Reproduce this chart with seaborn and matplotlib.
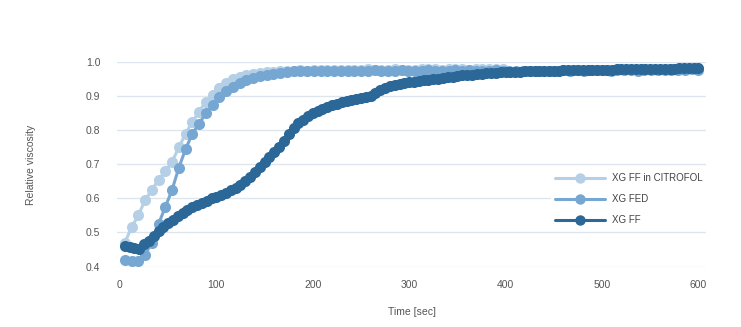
import numpy as np
import pandas as pd
import matplotlib.pyplot as plt
import seaborn as sns

# --- data ---
t_citrofol = [5, 12, 19, 26, 33, 40, 47, 54, 61, 68, 75, 82, 89, 96, 103, 110, 117, 124,
              131, 138, 145, 152, 159, 166, 173, 180, 187, 194, 201, 208, 215, 222, 229,
              236, 243, 250, 257, 264, 271, 278, 285, 292, 299, 306, 313, 320, 327, 334,
              341, 348, 355, 362, 369, 376, 383, 390, 397]
v_citrofol = [0.47, 0.515, 0.55, 0.595, 0.625, 0.655, 0.68, 0.708, 0.75, 0.79, 0.825, 0.855,
              0.885, 0.905, 0.925, 0.94, 0.952, 0.958, 0.963, 0.967, 0.97, 0.972, 0.973,
              0.974, 0.975, 0.976, 0.977, 0.976, 0.978, 0.977, 0.978, 0.979, 0.978, 0.977,
              0.978, 0.979, 0.98, 0.979, 0.978, 0.979, 0.98, 0.979, 0.978, 0.979, 0.98,
              0.981, 0.98, 0.979, 0.98, 0.981, 0.98, 0.979, 0.98, 0.981, 0.982, 0.981, 0.98]

t_fed = [5, 12, 19, 26, 33, 40, 47, 54, 61, 68, 75, 82, 89, 96, 103, 110, 117, 124, 131,
         138, 145, 152, 159, 166, 173, 180, 187, 194, 201, 208, 215, 222, 229, 236, 243,
         250, 257, 264, 271, 278, 285, 292, 299, 306, 313, 320, 327, 334, 341, 348, 355,
         362, 369, 376, 383, 390, 397, 404, 411, 418, 425, 432, 439, 446, 453, 460, 467,
         474, 481, 488, 495, 502, 509, 516, 523, 530, 537, 544, 551, 558, 565, 572, 579,
         586, 593, 600]
v_fed = [0.418, 0.415, 0.415, 0.435, 0.47, 0.525, 0.575, 0.625, 0.69, 0.745, 0.79, 0.82,
         0.85, 0.875, 0.898, 0.915, 0.928, 0.94, 0.948, 0.955, 0.96, 0.963, 0.967, 0.97,
         0.972, 0.974, 0.975, 0.974, 0.976, 0.975, 0.976, 0.975, 0.974, 0.975, 0.976,
         0.975, 0.976, 0.977, 0.976, 0.975, 0.976, 0.977, 0.976, 0.975, 0.976, 0.977,
         0.976, 0.975, 0.976, 0.977, 0.976, 0.977, 0.976, 0.975, 0.976, 0.977, 0.976,
         0.975, 0.974, 0.975, 0.976, 0.975, 0.974, 0.975, 0.976, 0.977, 0.976, 0.977,
         0.976, 0.977, 0.978, 0.977, 0.976, 0.977, 0.978, 0.977, 0.976, 0.977, 0.978,
         0.979, 0.978, 0.979, 0.978, 0.979, 0.98, 0.979]

t_ff = list(range(5, 601, 5))
v_ff = [0.46, 0.458, 0.455, 0.452, 0.465, 0.475, 0.49, 0.505, 0.515, 0.528, 0.538, 0.548,
        0.558, 0.567, 0.575, 0.582, 0.588, 0.594, 0.6, 0.605, 0.61, 0.617, 0.625, 0.632,
        0.64, 0.652, 0.664, 0.678, 0.693, 0.708, 0.722, 0.737, 0.752, 0.77, 0.79, 0.808,
        0.822, 0.832, 0.842, 0.85, 0.857, 0.863, 0.869, 0.875, 0.879, 0.883, 0.886, 0.889,
        0.892, 0.895, 0.897, 0.9, 0.91, 0.918, 0.925, 0.93, 0.935, 0.938, 0.94, 0.942,
        0.944, 0.945, 0.947, 0.948, 0.95, 0.952, 0.954, 0.956, 0.958, 0.96, 0.962, 0.963,
        0.964, 0.966, 0.967, 0.968, 0.969, 0.97, 0.971, 0.972, 0.972, 0.973, 0.973, 0.974,
        0.974, 0.975, 0.975, 0.975, 0.976, 0.976, 0.976, 0.977, 0.977, 0.977, 0.978, 0.978,
        0.978, 0.978, 0.979, 0.979, 0.979, 0.979, 0.98, 0.98, 0.98, 0.98, 0.981, 0.981,
        0.981, 0.981, 0.982, 0.982, 0.982, 0.982, 0.982, 0.983, 0.983, 0.983, 0.983, 0.983]

series = [
    ("XG FF in CITROFOL", t_citrofol, v_citrofol, "#b5d0e6"),
    ("XG FED", t_fed, v_fed, "#76a7d2"),
    ("XG FF", t_ff, v_ff, "#2b6797"),
]

sns.set_theme(style="white")
plt.rcParams['font.family'] = ['Liberation Sans', 'DejaVu Sans']

fig = plt.figure(figsize=(7.41, 3.27), dpi=100)
ax = fig.add_axes([0.158, 0.185, 0.795, 0.624])

for name, t, v, col in series:
    df = pd.DataFrame({'t': t, 'v': v})
    sns.lineplot(data=df, x='t', y='v', ax=ax, color=col, marker='o', markersize=8,
                 markeredgewidth=0, linewidth=2.2, label=name, clip_on=False)

ax.set_xlim(-3, 608)
ax.set_ylim(0.4, 1.0)
ax.set_xticks(np.arange(0, 601, 100))
ax.set_yticks(np.arange(0.4, 1.01, 0.1))
ax.set_yticklabels([f"{y:.1f}" for y in np.arange(0.4, 1.01, 0.1)])
ax.yaxis.grid(True, color='#dde6ee', linewidth=1)
ax.set_axisbelow(True)
for s in ax.spines.values():
    s.set_visible(False)
ax.tick_params(axis='both', length=0, labelsize=7.5, labelcolor='#555555')
ax.tick_params(axis='y', pad=12)
ax.tick_params(axis='x', pad=10)
ax.set_xlabel('Time [sec]', fontsize=7.5, color='#555555', labelpad=12)
ax.set_ylabel('Relative viscosity', fontsize=7.5, color='#555555', labelpad=36)

leg = ax.legend(loc='center right', bbox_to_anchor=(1.0, 0.33), frameon=True,
                facecolor='white', edgecolor='none', framealpha=1, fontsize=7,
                handlelength=5.1, handletextpad=0.7, labelspacing=1.15, borderaxespad=0)
for h in leg.get_lines():
    h.set_markersize(7.5)
for txt in leg.get_texts():
    txt.set_color('#444444')

plt.savefig('out.png', dpi=100)
